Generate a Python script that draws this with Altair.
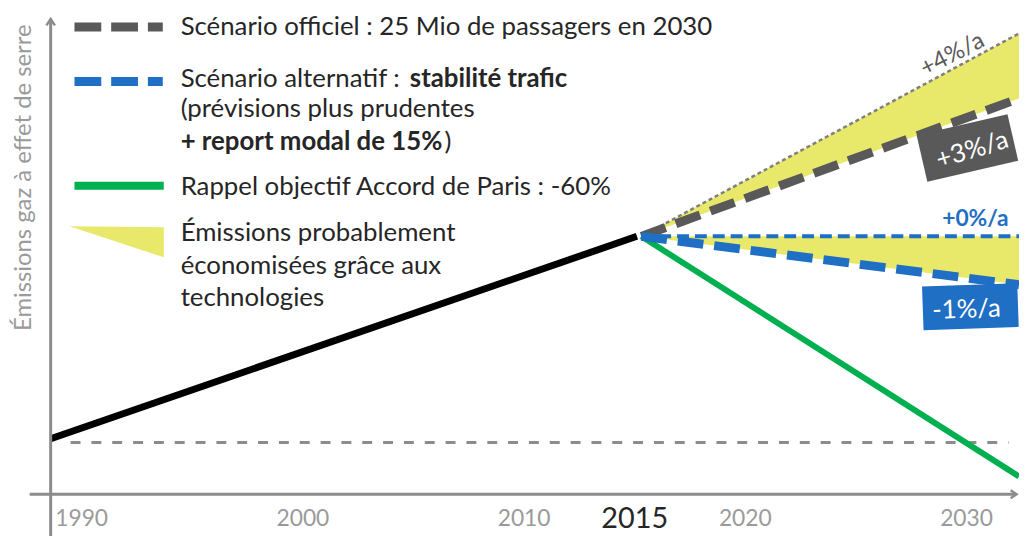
import altair as alt
import pandas as pd

# ---------------- data ----------------
# x = year, v = emissions index (0 at the x axis, 1990 level = 100)
hist_year = [1988.6, 2015.1]
hist_val = [100, 464]

scen_year = [2015.3, 2032.37]
plus4_val = [464, 829]
plus3_val = [464, 712]
zero_val = [464, 464]
minus1_val = [464, 377]
paris_val = [464, 32]

ref_year = [1989.5, 2031.9]
ref_val = [93, 93]

tick_year = [1990, 2000, 2010, 2020, 2030]
tick_text = ["1990", "2000", "2010", "2020", "2030"]
key_year = [2015]
key_text = ["2015"]

X_DOMAIN = [1988.6, 2032.37]
Y_DOMAIN = [0, 855]

FONT = "Lato"
GREY_DARK = "#595959"
BLUE = "#1f6fc5"
GREEN = "#00b050"
YELLOW = "#e8e86b"
AXIS_GREY = "#8c8c8c"
TEXT = "#262626"
LEG_SIZE = 26

xs = alt.Scale(domain=X_DOMAIN, nice=False, zero=False)
ys = alt.Scale(domain=Y_DOMAIN, nice=False, zero=False)


def X(f="year"):
    return alt.X(f"{f}:Q", scale=xs, axis=None)


def Y(f="v"):
    return alt.Y(f"{f}:Q", scale=ys, axis=None)


def line(years, vals, **mark):
    df = pd.DataFrame({"year": years, "v": vals})
    return alt.Chart(df).mark_line(**mark).encode(x=X(), y=Y())


def band(years, upper, lower):
    df = pd.DataFrame({"year": years, "v": upper, "v2": lower})
    return alt.Chart(df).mark_area(color=YELLOW, opacity=1).encode(
        x=X(), y=Y(), y2=alt.Y2("v2:Q")
    )


one = pd.DataFrame({"a": [0]})

# ---------------- axes ----------------
y_axis = alt.Chart(pd.DataFrame({"year": [X_DOMAIN[0]], "v": [-75], "v2": [852]})).mark_rule(
    color=AXIS_GREY, strokeWidth=3
).encode(x=X(), y=Y(), y2=alt.Y2("v2:Q"))
y_arrow = alt.Chart(pd.DataFrame({"year": [X_DOMAIN[0]], "v": [855]})).mark_point(
    shape="M-1,1.5L0,0L1,1.5", filled=False, stroke=AXIS_GREY, strokeWidth=2.5, size=72, opacity=1
).encode(x=X(), y=Y())
x_axis = alt.Chart(pd.DataFrame({"year": [1987.65], "year2": [2032.2], "v": [0]})).mark_rule(
    color=AXIS_GREY, strokeWidth=3
).encode(x=X(), x2=alt.X2("year2:Q"), y=Y())
x_arrow = alt.Chart(pd.DataFrame({"year": [2032.26], "v": [0]})).mark_point(
    shape="M-1.5,-1L0,0L-1.5,1", filled=False, stroke=AXIS_GREY, strokeWidth=2.5, size=64, opacity=1
).encode(x=X(), y=Y())

ticks = alt.Chart(pd.DataFrame({"year": tick_year, "t": tick_text})).mark_text(
    font=FONT, fontSize=23, color="#9a9a9a", baseline="middle", align="center"
).encode(x=X(), y=alt.value(504), text="t:N")
key_tick = alt.Chart(pd.DataFrame({"year": key_year, "t": key_text})).mark_text(
    font=FONT, fontSize=29, color=TEXT, baseline="middle", align="center"
).encode(x=X(), y=alt.value(504), text="t:N")

y_title = alt.Chart(one).mark_text(
    text="Émissions gaz à effet de serre", font=FONT, fontSize=24, color="#9a9a9a",
    angle=270, align="center", baseline="middle"
).encode(x=alt.value(-27), y=alt.value(160))

# ---------------- data marks ----------------
bands = band(scen_year, plus4_val, plus3_val) + band(scen_year, zero_val, minus1_val)
ref = line(ref_year, ref_val, color=AXIS_GREY, strokeWidth=3, strokeDash=[10, 11])
hist = line(hist_year, hist_val, color="black", strokeWidth=7)
paris = line(scen_year, paris_val, color=GREEN, strokeWidth=6)
p4 = line(scen_year, plus4_val, color="#7f7f7f", strokeWidth=2.5, strokeDash=[4, 3])
p3 = line(scen_year, plus3_val, color=GREY_DARK, strokeWidth=9, strokeDash=[26, 11])
z0 = line(scen_year, zero_val, color=BLUE, strokeWidth=4, strokeDash=[12, 6])
m1 = line(scen_year, minus1_val, color=BLUE, strokeWidth=9, strokeDash=[26, 11])


# ---------------- annotations (pixel positions inside plot area) ----------------
def txt(text, x, y, size, color, weight="normal", angle=0, align="center", baseline="middle"):
    kw = dict(text=text, font=FONT, fontSize=size, color=color, fontWeight=weight,
              align=align, baseline=baseline)
    if angle:
        kw["angle"] = angle
    return alt.Chart(one).mark_text(**kw).encode(x=alt.value(x), y=alt.value(y))


def box(x, y, w, h, color, angle=0):
    r = h / w
    kw = dict(shape=f"M-1,-{r:.3f}L1,-{r:.3f}L1,{r:.3f}L-1,{r:.3f}Z", filled=True,
              color=color, size=w * w, opacity=1, strokeWidth=0)
    if angle:
        kw["angle"] = angle
    return alt.Chart(one).mark_point(**kw).encode(x=alt.value(x), y=alt.value(y))


ann = (
    txt("+4%/a", 909, 36, 24, GREY_DARK, angle=333)
    + box(924, 130, 94, 48, GREY_DARK, angle=347)
    + txt("+3%/a", 929, 132, 26, "white", angle=343)
    + txt("+0%/a", 932, 202, 23, BLUE, weight="bold")
    + box(927, 290, 96, 44, BLUE, angle=358)
    + txt("-1%/a", 923, 293, 26, "white", angle=358)
)

# ---------------- legend (pixel positions) ----------------
LX = 131
leg_lines = (
    alt.Chart(one).mark_rule(color=GREY_DARK, strokeWidth=9, strokeDash=[27, 10]).encode(
        x=alt.value(24), x2=alt.value(113), y=alt.value(8))
    + alt.Chart(one).mark_rule(color=BLUE, strokeWidth=9, strokeDash=[27, 10]).encode(
        x=alt.value(24), x2=alt.value(113), y=alt.value(63))
    + alt.Chart(one).mark_rule(color=GREEN, strokeWidth=8).encode(
        x=alt.value(24), x2=alt.value(114), y=alt.value(168))
    + alt.Chart(one).mark_point(shape="M-1,-0.33L1,-0.31L1,0.33Z", filled=True, color=YELLOW,
                                size=9025, opacity=1, strokeWidth=0).encode(
        x=alt.value(66.5), y=alt.value(224.5))
)


def lt(text, x, y, weight="normal"):
    return txt(text, x, y, LEG_SIZE, TEXT, weight=weight, align="left", baseline="alphabetic")


leg_text = (
    lt("Scénario officiel : 25 Mio de passagers en 2030", LX, 16)
    + lt("Scénario alternatif : ", LX, 69)
    + lt("stabilité trafic", 362, 69, weight="bold")
    + lt("(prévisions plus prudentes", LX, 99)
    + lt("+ report modal de 15%", LX, 132, weight="bold")
    + lt(")", 397, 132)
    + lt("Rappel objectif Accord de Paris : -60%", LX, 177)
    + lt("Émissions probablement", LX, 224)
    + lt("économisées grâce aux", LX, 257)
    + lt("technologies", LX, 289)
)

chart = alt.layer(
    bands, ref, hist, paris, p4, p3, z0, m1,
    y_axis, y_arrow, x_axis, x_arrow, ticks, key_tick, y_title,
    ann, leg_lines, leg_text,
).properties(
    width=976, height=479,
    autosize=alt.AutoSizeParams(type="none"),
    padding={"left": 43, "top": 9, "right": 0, "bottom": 42},
).configure_view(stroke=None)

chart.save("out.html", embed_options={"renderer": "svg", "actions": False})
